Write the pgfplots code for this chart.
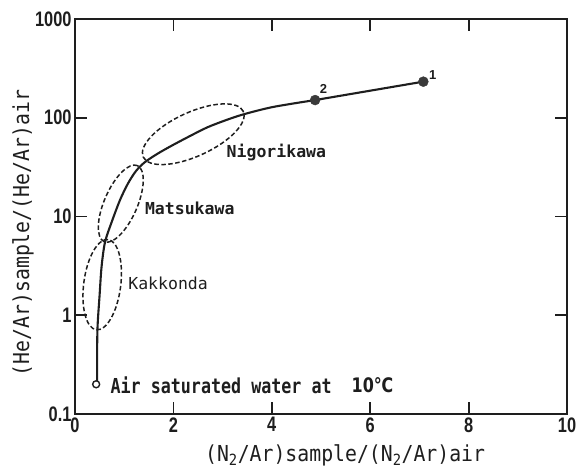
\documentclass[border=0pt]{standalone}
\usepackage{pgfplots}
\pgfplotsset{compat=1.18}
\usepackage{fontspec}
\usetikzlibrary{shapes.geometric}
\newfontfamily\labfont[FakeStretch=0.9]{DejaVu Sans Mono}
\newfontfamily\annfont{DejaVu Sans Mono}
\newfontfamily\airfont[FakeStretch=0.81]{DejaVu Sans Mono}
\newfontfamily\tickfont[FakeStretch=0.78]{Liberation Sans}
\newfontfamily\degfont[FakeStretch=0.8]{DejaVu Sans}
\newfontfamily\numfont{Liberation Sans}
\definecolor{ink}{HTML}{1E1E1E}
\definecolor{dot}{HTML}{3A3A3A}
\begin{document}
\begin{tikzpicture}
\path[use as bounding box] (0,0) rectangle (578bp,468bp);
\begin{axis}[
  at={(75bp,54bp)}, anchor=south west,
  scale only axis, width=492bp, height=395bp,
  xmin=0, xmax=10, ymin=0.1, ymax=1000, ymode=log,
  xtick={0,2,4,6,8,10}, xticklabels={0,2,4,6,8,10},
  ytick={0.1,1,10,100,1000}, yticklabels={0.1,1,10,100,1000},
  yminorticks=false, xminorticks=false,
  tick align=inside, major tick length=12bp,
  axis line style={line width=2bp, ink},
  tick style={line width=1.8bp, ink},
  tick label style={font=\tickfont\bfseries\fontsize{21bp}{24bp}\selectfont, text=ink},
  label style={font=\labfont\fontsize{22bp}{26bp}\selectfont, text=ink},
  xlabel={(N\textsubscript{2}/Ar)sample/(N\textsubscript{2}/Ar)air},
  xlabel style={at={(axis description cs:0.549,-0.104)}, anchor=center},
  ylabel={(He/Ar)sample/(He/Ar)air},
  ylabel style={at={(axis description cs:-0.1057,0.458)}, anchor=center},
  clip=false,
]
% main curve
\addplot[ink, line width=2.1bp, smooth, tension=0.5] coordinates {
  (0.45,0.215) (0.45,0.45) (0.46,0.8) (0.50,1.6) (0.54,3.1) (0.61,5.5)
  (0.746,8.8) (0.915,14.7) (1.077,21.6) (1.240,28.9) (1.423,35.6)
  (1.687,43.5) (1.992,53.0) (2.337,65.3) (2.683,79.7) (3.049,93.8)
  (3.415,107.9) (4.024,128.5) (4.88,151)
};
\addplot[ink, line width=2.1bp] coordinates {(4.88,151) (7.08,232)};
\addplot[only marks, mark=*, mark size=5bp, draw=dot, fill=dot] coordinates {(4.88,151) (7.08,232)};
\addplot[only marks, mark=o, mark size=3.5bp, mark options={line width=1.4bp, draw=ink, fill=white}] coordinates {(0.43,0.2)};
% ellipses
\node[ellipse, draw=ink, dash pattern=on 4.5bp off 2.5bp, line width=1.5bp, inner sep=0pt,
      minimum width=110bp, minimum height=44bp, rotate=24.5] at (axis cs:2.404,68.1) {};
\node[ellipse, draw=ink, dash pattern=on 4.5bp off 2.5bp, line width=1.5bp, inner sep=0pt,
      minimum width=83bp, minimum height=33bp, rotate=66.4] at (axis cs:0.931,13.5) {};
\node[ellipse, draw=ink, dash pattern=on 4.5bp off 2.5bp, line width=1.5bp, inner sep=0pt,
      minimum width=91bp, minimum height=37bp, rotate=82.6] at (axis cs:0.553,2.04) {};
% labels
\node[anchor=west, inner sep=0pt, text=ink, font=\annfont\bfseries\fontsize{16.5bp}{19bp}\selectfont] at (axis cs:3.08,44) {Nigorikawa};
\node[anchor=west, inner sep=0pt, text=ink, font=\annfont\bfseries\fontsize{16.5bp}{19bp}\selectfont] at (axis cs:1.42,12.2) {Matsukawa};
\node[anchor=west, inner sep=0pt, text=ink, font=\annfont\fontsize{16.5bp}{19bp}\selectfont] at (axis cs:1.08,2.12) {Kakkonda};
\node[anchor=west, inner sep=0pt, text=ink, font=\airfont\bfseries\fontsize{20.6bp}{24bp}\selectfont] at (axis cs:0.72,0.197) {Air saturated water at};
\node[anchor=west, inner sep=0pt, text=ink, font=\degfont\bfseries\fontsize{20bp}{24bp}\selectfont] at (axis cs:5.62,0.197) {10℃};
\node[inner sep=0pt, text=ink, font=\numfont\bfseries\fontsize{13bp}{15bp}\selectfont] at (axis cs:7.27,271) {1};
\node[inner sep=0pt, text=ink, font=\numfont\bfseries\fontsize{13bp}{15bp}\selectfont] at (axis cs:5.05,194) {2};
\end{axis}
\end{tikzpicture}
\end{document}
